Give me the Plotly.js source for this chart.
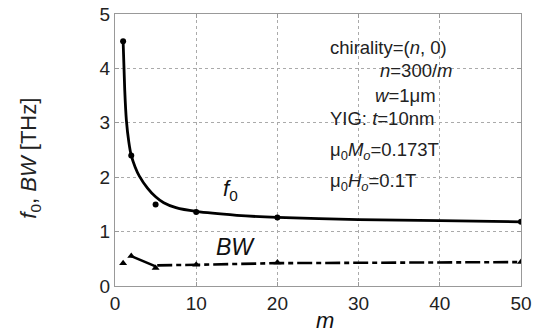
<!DOCTYPE html>
<html>
<head>
<meta charset="utf-8">
<script src="https://cdn.plot.ly/plotly-3.0.1.min.js"></script>
<style>html,body{margin:0;padding:0;background:#fff;}#chart{width:537px;height:332px;}</style>
</head>
<body>
<div id="chart"></div>
<script>
// measured points
var mPoints = [1, 2, 5, 10, 20, 50];
var f0Points = [4.5, 2.4, 1.5, 1.36, 1.26, 1.18];
var bwPoints = [0.42, 0.55, 0.33, 0.39, 0.43, 0.44];

// fitted f0 curve
var mCurve = [1, 1.2, 1.4, 1.7, 2, 2.5, 3, 4, 5, 6, 7.5, 10, 15, 20, 30, 40, 50];
var f0Curve = [4.5, 3.6, 3.05, 2.65, 2.4, 2.18, 2.02, 1.8, 1.64, 1.53, 1.44, 1.37, 1.3, 1.26, 1.22, 1.2, 1.18];

// BW lines
var mBwSolid = [2, 5];
var bwSolid = [0.55, 0.36];
var mBwDash = [5.2, 6, 10, 20, 50];
var bwDash = [0.38, 0.38, 0.39, 0.42, 0.44];

var xTicks = [0, 10, 20, 30, 40, 50];
var yTicks = [0, 1, 2, 3, 4, 5];

var traces = [
  {x: mCurve, y: f0Curve, mode: 'lines', line: {color: '#000', width: 2.8, shape: 'spline', smoothing: 0.6}},
  {x: mPoints, y: f0Points, mode: 'markers', marker: {color: '#000', size: 6, symbol: 'circle'}},
  {x: mBwSolid, y: bwSolid, mode: 'lines', line: {color: '#000', width: 2.6}},
  {x: mBwDash, y: bwDash, mode: 'lines', line: {color: '#000', width: 2.6, dash: '15px,4px,5px,4px'}},
  {x: mPoints, y: bwPoints, mode: 'markers', marker: {color: '#000', size: 7, symbol: 'triangle-up'}}
];

var tickFont = {family: 'Liberation Sans, Arial, sans-serif', size: 19, color: '#222'};
var axCommon = {
  showgrid: true, gridcolor: '#aaa', griddash: 'dot', gridwidth: 1,
  showline: true, linecolor: '#999', linewidth: 1, mirror: 'ticks',
  ticks: 'inside', ticklen: 4, tickcolor: '#999',
  zeroline: false, tickfont: tickFont, fixedrange: true
};

var txt = {family: 'Liberation Sans, Arial, sans-serif', size: 18.5, color: '#222'};
var annotations = [
  {x: 26.2, y: 4.39, xref: 'x', yref: 'y', text: 'chirality=(<i>n</i>, 0)', showarrow: false, xanchor: 'left', yanchor: 'middle', font: txt},
  {x: 32.4, y: 3.96, xref: 'x', yref: 'y', text: '<i>n</i>=300/<i>m</i>', showarrow: false, xanchor: 'left', yanchor: 'middle', font: txt},
  {x: 31.8, y: 3.5, xref: 'x', yref: 'y', text: '<i>w</i>=1μm', showarrow: false, xanchor: 'left', yanchor: 'middle', font: txt},
  {x: 26.2, y: 3.08, xref: 'x', yref: 'y', text: 'YIG: <i>t</i>=10nm', showarrow: false, xanchor: 'left', yanchor: 'middle', font: txt},
  {x: 26.2, y: 2.48, xref: 'x', yref: 'y', text: 'μ<sub>0</sub><i>M<sub>o</sub></i>=0.173T', showarrow: false, xanchor: 'left', yanchor: 'middle', font: txt},
  {x: 26.2, y: 1.92, xref: 'x', yref: 'y', text: 'μ<sub>0</sub><i>H<sub>o</sub></i>=0.1T', showarrow: false, xanchor: 'left', yanchor: 'middle', font: txt},
  {x: 13.0, y: 1.76, xref: 'x', yref: 'y', text: '<i>f</i><sub>0</sub>', showarrow: false, xanchor: 'left', yanchor: 'middle', font: {family: 'Liberation Sans, Arial, sans-serif', size: 22, color: '#111'}},
  {x: 14.8, y: 0.72, xref: 'x', yref: 'y', text: '<i>BW</i>', showarrow: false, xanchor: 'center', yanchor: 'middle', font: {family: 'Liberation Sans, Arial, sans-serif', size: 23, color: '#111'}},
  {x: 25.9, y: -0.125, xref: 'x', yref: 'paper', text: '<i>m</i>', showarrow: false, xanchor: 'center', yanchor: 'middle', font: {family: 'Liberation Sans, Arial, sans-serif', size: 22, color: '#111'}},
  {x: -0.208, y: 0.47, xref: 'paper', yref: 'paper', text: '<i>f</i><sub>0</sub>, <i>BW</i> [THz]', textangle: -90, showarrow: false, xanchor: 'center', yanchor: 'middle', font: {family: 'Liberation Sans, Arial, sans-serif', size: 22, color: '#222'}}
];

var layout = {
  width: 537, height: 332,
  margin: {l: 115, r: 16, t: 14, b: 46, pad: 0},
  paper_bgcolor: '#fff', plot_bgcolor: '#fff',
  showlegend: false,
  xaxis: Object.assign({}, axCommon, {range: [0, 50], tickvals: xTicks, ticktext: xTicks.map(String)}),
  yaxis: Object.assign({}, axCommon, {range: [0, 5], tickvals: yTicks, ticktext: yTicks.map(String)}),
  annotations: annotations
};

Plotly.newPlot('chart', traces, layout, {staticPlot: true, displayModeBar: false});
</script>
</body>
</html>
